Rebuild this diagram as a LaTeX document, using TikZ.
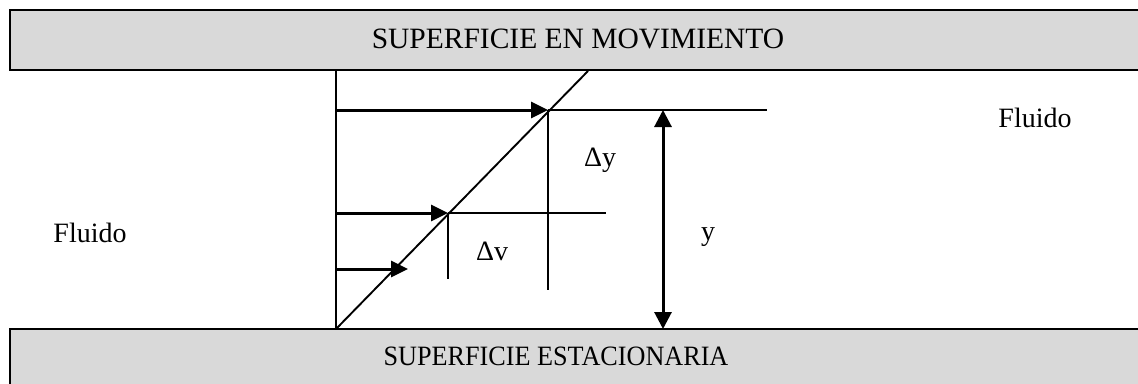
\documentclass[tikz,border=0pt]{standalone}
\usepackage{fontspec}
\setmainfont{Liberation Serif}
\usetikzlibrary{arrows.meta}
\definecolor{boxgray}{HTML}{D9D9D9}
\begin{document}
\begin{tikzpicture}[x=1pt,y=-1pt,
  surf/.style={draw=black, line width=2.6pt, fill=boxgray, inner sep=0pt, outer sep=0pt, rectangle},
  lbl/.style={font=\fontsize{28}{32}\selectfont, inner sep=0pt},
  biglbl/.style={font=\fontsize{29.5}{34}\selectfont, inner sep=0pt},
  thinline/.style={line width=1.9pt},
  vec/.style={line width=3pt, -{Triangle[length=17pt,width=16pt]}},
  dvec/.style={line width=3pt, {Triangle[length=17pt,width=17pt]}-{Triangle[length=17pt,width=17pt]}},
]
\useasboundingbox (0,0) rectangle (1138,383);
\clip (0,0) rectangle (1138,383);
% surfaces
\node[surf, anchor=north west, minimum width=1140pt, minimum height=60pt] (topbox) at (10,10) {};
\node[surf, anchor=north west, minimum width=1140pt, minimum height=80pt] (botbox) at (10,329) {};
\node[biglbl] (toplbl) at (578,39) {SUPERFICIE EN MOVIMIENTO};
\node[lbl] (botlbl) at (556,356) {\scalebox{0.935}[1]{SUPERFICIE ESTACIONARIA}};
% key points
\coordinate (o) at (336,329);
\coordinate (vtop) at (336,71);
\coordinate (dtop) at (588,71);
\coordinate (p1) at (548,110);
\coordinate (a1) at (336,110);
\coordinate (h1) at (767,110);
\coordinate (v1) at (548,290);
\coordinate (p2) at (448,213);
\coordinate (a2) at (336,213);
\coordinate (h2) at (606,213);
\coordinate (v2) at (448,279);
\coordinate (p3) at (408,269);
\coordinate (a3) at (336,269);
\coordinate (ytop) at (663,110);
\coordinate (ybot) at (663,329);
% profile lines
\draw[thinline] (o) -- (vtop);
\draw[thinline] (o) -- (dtop);
\draw[thinline] (p1) -- (h1);
\draw[thinline] (p1) -- (v1);
\draw[thinline] (p2) -- (h2);
\draw[thinline] (p2) -- (v2);
% velocity arrows
\draw[vec] (a1) -- (p1);
\draw[vec] (a2) -- (p2);
\draw[vec] (a3) -- (p3);
\draw[dvec] (ytop) -- (ybot);
% labels
\node[lbl] (dy) at (600,160) {Δy};
\node[lbl] (dv) at (492,251) {Δv};
\node[lbl] (ylbl) at (708,237) {y};
\node[lbl] (fl1) at (90,233) {Fluido};
\node[lbl] (fl2) at (1035,118) {Fluido};
\end{tikzpicture}
\end{document}
